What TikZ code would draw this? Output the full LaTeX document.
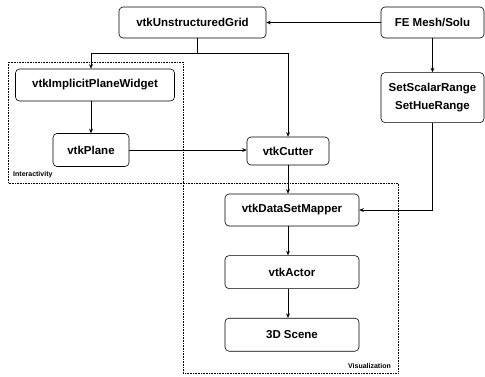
\documentclass[tikz,border=0pt]{standalone}
\usepackage{fontspec}
\setsansfont{Liberation Sans}
\usepackage{tikz}
\usetikzlibrary{arrows.meta, positioning, calc}

\begin{document}
\begin{tikzpicture}[
    x=1pt, y=-1pt,
    >={Stealth[length=4.5pt, width=3.8pt]},
    block/.style={
        rectangle, rounded corners=4pt,
        draw=black, line width=0.6pt,
        inner sep=0pt, align=center,
        font=\sffamily\bfseries\fontsize{11.5}{18}\selectfont
    },
    groupbox/.style={draw=black, densely dotted, line width=0.6pt},
    grouplabel/.style={font=\sffamily\bfseries\fontsize{7}{8}\selectfont, inner sep=0pt},
    line/.style={draw=black, line width=0.6pt},
    arrow/.style={->, line width=0.6pt, draw=black}
]
\useasboundingbox (0,0) rectangle (485,376);

% ==============================================================================
% TOP ROW: SOURCE DATA
% ==============================================================================
\node[block, minimum width=147pt, minimum height=31pt] (grid) at (192.5, 22.5) {vtkUnstructuredGrid};
\node[block, minimum width=103pt, minimum height=31pt] (mesh) at (432.5, 22.5) {FE Mesh/Solu};

\draw[arrow] (mesh.west) -- (grid.east);

% ==============================================================================
% RIGHT COLUMN: COLOUR RANGE
% ==============================================================================
\node[block, minimum width=103pt, minimum height=50pt, below=34pt of mesh] (range) {
    SetScalarRange\\
    SetHueRange
};

\draw[arrow] (mesh.south) -- (range.north);

% ==============================================================================
% INTERACTIVITY GROUP
% ==============================================================================
\node[block, minimum width=159pt, minimum height=32pt] (widget) at (95, 85) {vtkImplicitPlaneWidget};
\node[block, minimum width=76pt, minimum height=33pt] (plane) at (91, 150) {vtkPlane};

\draw[groupbox] (8, 62) rectangle (183, 183);
\node[grouplabel, anchor=west] (interlabel) at (13, 175) {Interactivity};

\draw[arrow] (widget.south -| plane.north) -- (plane.north);

% ==============================================================================
% CUTTER
% ==============================================================================
\node[block, minimum width=82pt, minimum height=28pt] (cutter) at (288, 151) {vtkCutter};

\coordinate (split) at (197, 53);
\draw[line] ([xshift=4.5pt]grid.south) -- (split);
\draw[arrow] (split) -| (widget.north -| plane.north);
\draw[arrow] (split) -| (cutter.north);
\draw[arrow] (plane.east) -- (plane.east -| cutter.west);

% ==============================================================================
% VISUALIZATION GROUP
% ==============================================================================
\node[block, minimum width=134pt, minimum height=32pt] (mapper) at (292, 210) {vtkDataSetMapper};
\node[block, minimum width=134pt, minimum height=33pt, below=29pt of mapper] (actor) {vtkActor};
\node[block, minimum width=134pt, minimum height=33pt, below=29pt of actor] (scene) {3D Scene};

\draw[groupbox] (183, 183) rectangle (398, 373);
\node[grouplabel, anchor=east] (vislabel) at (391, 366) {Visualization};

\draw[arrow] (cutter.south) -- (cutter.south |- mapper.north);
\draw[arrow] (mapper.south -| cutter.south) -- (actor.north -| cutter.south);
\draw[arrow] (actor.south -| cutter.south) -- (scene.north -| cutter.south);
\draw[arrow] (range.south) |- (mapper.east);

\end{tikzpicture}
\end{document}
